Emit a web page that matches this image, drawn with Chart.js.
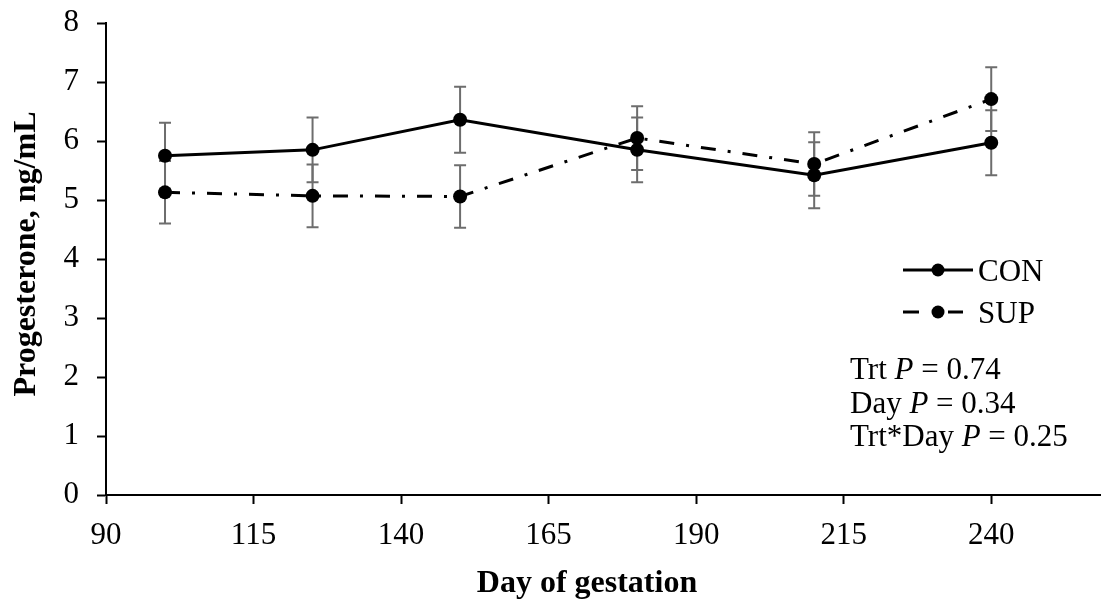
<!DOCTYPE html>
<html>
<head>
<meta charset="utf-8">
<script src="https://cdn.jsdelivr.net/npm/chart.js@4.4.1/dist/chart.umd.min.js"></script>
<style>
  html, body { margin: 0; padding: 0; background: #fff; }
  #wrap { width: 1101px; height: 602px; position: relative; }
  canvas { display: block; }
</style>
</head>
<body>
<div id="wrap"><canvas id="c" width="1101" height="602"></canvas></div>
<script>
// Progesterone by day of gestation, means and standard errors per treatment
const days = [100, 125, 150, 180, 210, 240];
const conMean = [5.75, 5.85, 6.36, 5.85, 5.42, 5.97];
const conSE = [0.56, 0.55, 0.56, 0.55, 0.56, 0.55];
const supMean = [5.13, 5.07, 5.06, 6.05, 5.61, 6.71];
const supSE = [0.53, 0.53, 0.53, 0.54, 0.54, 0.54];

const seriesNames = ['CON', 'SUP'];
const xTickValues = [90, 115, 140, 165, 190, 215, 240];
const yTickValues = [0, 1, 2, 3, 4, 5, 6, 7, 8];
const xTitle = 'Day of gestation';
const yTitle = 'Progesterone, ng/mL';
const statLines = [
  ['Trt ', 'P', ' = 0.74'],
  ['Day ', 'P', ' = 0.34'],
  ['Trt*Day ', 'P', ' = 0.25']
];

const SERIF = "'Liberation Serif', 'Times New Roman', serif";
const TICK_FONT = { family: SERIF, size: 31 };
const SUP_DASH = [15, 12, 3, 12];

function points(means) {
  return days.map((d, i) => ({ x: d, y: means[i] }));
}

// Vertical error bars with caps, drawn behind the lines and markers
const errorBars = {
  id: 'errorBars',
  beforeDatasetsDraw(chart) {
    const { ctx, scales: { x, y } } = chart;
    const sets = [[conMean, conSE], [supMean, supSE]];
    ctx.save();
    ctx.strokeStyle = '#6d6d6d';
    ctx.lineWidth = 2;
    sets.forEach(([m, se]) => {
      days.forEach((d, i) => {
        const px = x.getPixelForValue(d);
        const top = y.getPixelForValue(m[i] + se[i]);
        const bot = y.getPixelForValue(m[i] - se[i]);
        ctx.beginPath();
        ctx.moveTo(px, top); ctx.lineTo(px, bot);
        ctx.moveTo(px - 6, top); ctx.lineTo(px + 6, top);
        ctx.moveTo(px - 6, bot); ctx.lineTo(px + 6, bot);
        ctx.stroke();
      });
    });
    ctx.restore();
  }
};

// Legend, statistics block and axis titles
const annotations = {
  id: 'annotations',
  afterDraw(chart) {
    const ctx = chart.ctx;
    const area = chart.chartArea;
    ctx.save();
    ctx.fillStyle = '#000';
    ctx.strokeStyle = '#000';
    ctx.lineWidth = 3;

    // legend samples
    const mx = 938;
    const conY = 270, supY = 312;
    ctx.beginPath();
    ctx.moveTo(903, conY); ctx.lineTo(973, conY);
    ctx.moveTo(903, supY); ctx.lineTo(919, supY);
    ctx.moveTo(948, supY); ctx.lineTo(963, supY);
    ctx.stroke();
    [conY, supY].forEach(yy => {
      ctx.beginPath();
      ctx.arc(mx, yy, 6.5, 0, Math.PI * 2);
      ctx.fill();
    });
    ctx.font = '31px ' + SERIF;
    ctx.textBaseline = 'alphabetic';
    ctx.textAlign = 'left';
    ctx.fillText(seriesNames[0], 978, conY + 11);
    ctx.fillText(seriesNames[1], 978, supY + 11);

    // statistics
    const baseY = [379, 412.5, 446];
    statLines.forEach((parts, i) => {
      let x = 850;
      parts.forEach((p, j) => {
        ctx.font = (j === 1 ? 'italic ' : '') + '31px ' + SERIF;
        ctx.fillText(p, x, baseY[i]);
        x += ctx.measureText(p).width;
      });
    });

    // axis titles
    ctx.font = 'bold 32px ' + SERIF;
    ctx.textAlign = 'center';
    ctx.fillText(xTitle, 587, 592);
    ctx.save();
    ctx.translate(35, (area.top + area.bottom) / 2 - 5);
    ctx.rotate(-Math.PI / 2);
    ctx.fillText(yTitle, 0, 0);
    ctx.restore();

    ctx.restore();
  }
};

new Chart(document.getElementById('c'), {
  type: 'line',
  data: {
    datasets: [
      {
        label: seriesNames[0],
        data: points(conMean),
        borderColor: '#000',
        backgroundColor: '#000',
        borderWidth: 3,
        pointRadius: 7,
        pointBorderWidth: 0,
        pointBackgroundColor: '#000',
        tension: 0
      },
      {
        label: seriesNames[1],
        data: points(supMean),
        borderColor: '#000',
        backgroundColor: '#000',
        borderWidth: 3,
        borderDash: SUP_DASH,
        pointRadius: 7,
        pointBorderWidth: 0,
        pointBackgroundColor: '#000',
        tension: 0
      }
    ]
  },
  options: {
    responsive: false,
    animation: false,
    devicePixelRatio: 1,
    layout: { autoPadding: false, padding: { top: 23, right: 0, left: 0, bottom: 0 } },
    plugins: { legend: { display: false }, tooltip: { enabled: false } },
    scales: {
      x: {
        type: 'linear',
        min: 90,
        max: 258.6,
        afterBuildTicks: s => { s.ticks = xTickValues.map(v => ({ value: v })); },
        afterFit: s => { s.height = 107; s.paddingLeft = 0; s.paddingRight = 0; },
        grid: { drawOnChartArea: false, color: '#000', tickLength: 9, tickWidth: 2 },
        border: { color: '#000', width: 2 },
        ticks: { font: TICK_FONT, color: '#000', padding: 13, maxRotation: 0 }
      },
      y: {
        min: 0,
        max: 8,
        afterBuildTicks: s => { s.ticks = yTickValues.map(v => ({ value: v })); },
        afterFit: s => { s.width = 106; s.paddingTop = 0; s.paddingBottom = 0; },
        grid: { drawOnChartArea: false, color: '#000', tickLength: 9, tickWidth: 2 },
        border: { color: '#000', width: 2 },
        ticks: { font: TICK_FONT, color: '#000', padding: 18 }
      }
    }
  },
  plugins: [errorBars, annotations]
});
</script>
</body>
</html>
